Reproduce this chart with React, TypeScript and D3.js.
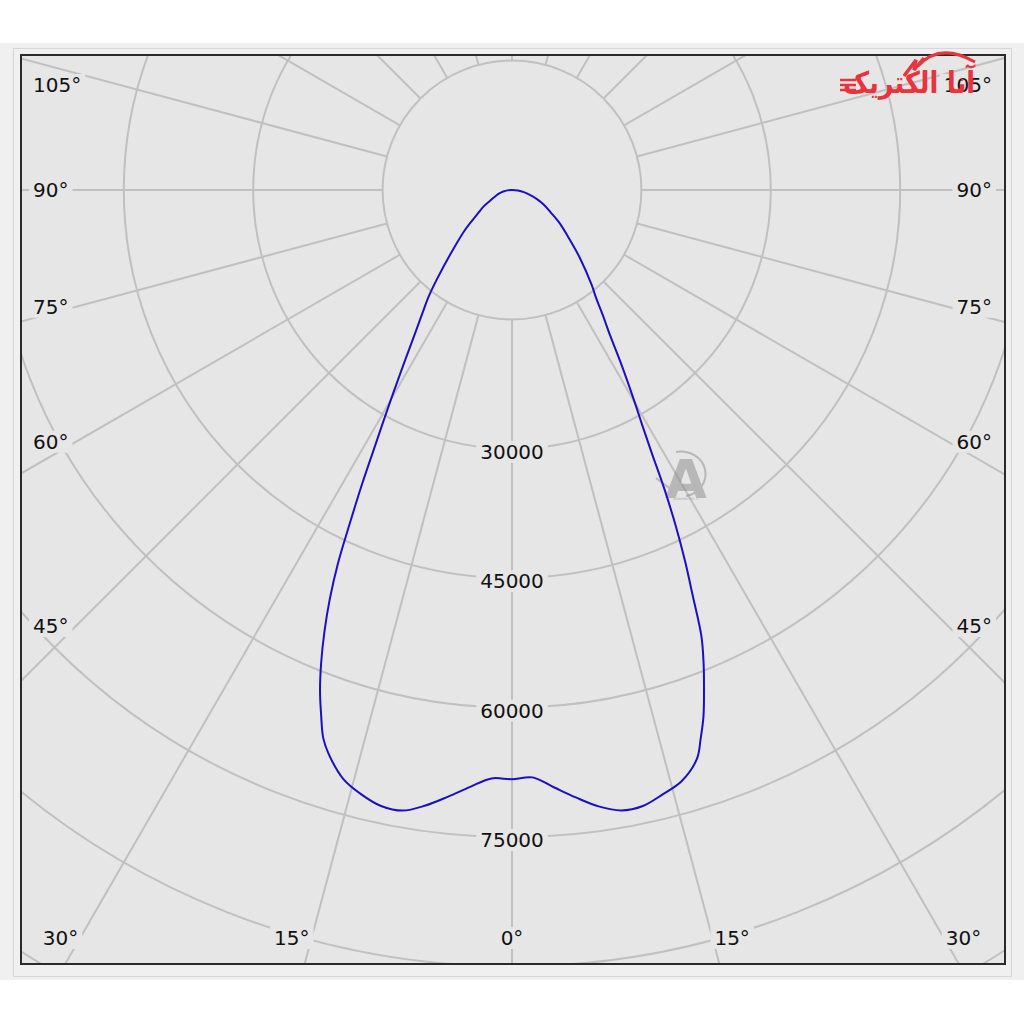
import React, { useEffect, useRef } from 'react';
import * as d3 from 'd3';

// intensity readings (cd) at angles from nadir, one list per half-plane
const angles = [0, 2, 4, 6, 8, 10, 12, 14, 16, 18, 19, 20, 21, 22, 23, 24, 25, 26, 27, 28, 29, 30, 32, 34, 36, 38, 40, 45, 50, 55, 60, 65, 70, 75, 80, 85, 90];
const leftValues = [68300, 68250, 69350, 70700, 72050, 73050, 73000, 72200, 71000, 68750, 67200, 64700, 62100, 59040, 55650, 51950, 47710, 42700, 38320, 34220, 30900, 28100, 23540, 20150, 17680, 15700, 13600, 9540, 6990, 4930, 3790, 2630, 2010, 1520, 1020, 510, 0];
const rightValues = [68300, 68130, 69400, 70800, 72150, 73030, 73000, 72200, 71300, 69350, 67200, 64900, 62100, 59300, 56200, 51550, 47460, 43270, 38920, 34470, 31100, 28500, 24040, 20340, 17870, 15800, 14370, 11110, 8520, 6790, 5170, 4110, 3080, 2090, 1400, 700, 0];

const ringValues = [15000, 30000, 45000, 60000, 75000, 90000, 105000, 120000];
const ringLabels = [30000, 45000, 60000, 75000];
const sideLabels = [105, 90, 75, 60, 45];
const bottomLabels = [30, 15, 0];

const App = () => {
  const ref = useRef<SVGSVGElement>(null);

  useEffect(() => {
    drawChart();
    return () => {
      d3.select(ref.current).selectAll('*').remove();
    };
  }, []);

  const drawChart = () => {
    const svg = d3.select(ref.current);
    const cx = 512;
    const cy = 190;
    const frame = { x: 21, y: 55, w: 984, h: 909 };
    const bg = '#e6e6e6';
    const font = '"DejaVu Sans", Verdana, sans-serif';

    const r = d3.scaleLinear().domain([0, 15000]).range([0, 129.4]);
    const rad = (deg: number) => (deg * Math.PI) / 180;
    // angle measured from straight down, side +1 right / -1 left
    const pt = (deg: number, v: number, side: number): [number, number] => [
      cx + side * r(v) * Math.sin(rad(deg)),
      cy + r(v) * Math.cos(rad(deg)),
    ];

    // outer panel
    svg.append('rect').attr('x', 0).attr('y', 43).attr('width', 1024).attr('height', 937).attr('fill', '#f0f0f0');
    svg.append('rect').attr('x', 13.5).attr('y', 48.5).attr('width', 998).attr('height', 928)
      .attr('fill', 'none').attr('stroke', '#d6d6d6').attr('stroke-width', 1);

    svg.append('defs').append('clipPath').attr('id', 'frameClip')
      .append('rect').attr('x', frame.x).attr('y', frame.y).attr('width', frame.w).attr('height', frame.h);

    svg.append('rect').attr('x', frame.x).attr('y', frame.y).attr('width', frame.w).attr('height', frame.h).attr('fill', bg);

    const g = svg.append('g').attr('clip-path', 'url(#frameClip)');

    // rings
    g.selectAll('.ring').data(ringValues).enter().append('circle')
      .attr('cx', cx).attr('cy', cy).attr('r', d => r(d))
      .attr('fill', 'none').attr('stroke', '#c0c0c0').attr('stroke-width', 2);

    // spokes every 15 degrees, from the first ring outward
    const spokes = d3.range(0, 360, 15);
    g.selectAll('.spoke').data(spokes).enter().append('line')
      .attr('x1', d => pt(d, 15000, 1)[0]).attr('y1', d => pt(d, 15000, 1)[1])
      .attr('x2', d => pt(d, 200000, 1)[0]).attr('y2', d => pt(d, 200000, 1)[1])
      .attr('stroke', '#c0c0c0').attr('stroke-width', 2);

    // labels with background boxes
    const label = (x: number, y: number, txt: string, anchor: string) => {
      const lg = svg.append('g');
      const t = lg.append('text').attr('x', x).attr('y', y)
        .attr('text-anchor', anchor).attr('dominant-baseline', 'central')
        .attr('font-family', font).attr('font-size', 20).attr('fill', '#111').text(txt);
      const b = (t.node() as SVGTextElement).getBBox();
      lg.insert('rect', 'text').attr('x', b.x - 4).attr('y', b.y + 1).attr('width', b.width + 8).attr('height', b.height - 2).attr('fill', bg);
    };

    ringLabels.forEach(v => label(cx, cy + r(v) + 3, String(v), 'middle'));

    sideLabels.forEach(a => {
      const y = Math.max(cy + 436 / Math.tan(rad(a)), 85);
      label(33, y, `${a}°`, 'start');
      label(992, y, `${a}°`, 'end');
    });

    bottomLabels.forEach(a => {
      const dx = (938 - cy) * Math.tan(rad(a));
      if (a === 0) {
        label(cx, 938, `${a}°`, 'middle');
      } else {
        label(cx - dx - 2, 938, `${a}°`, 'end');
        label(cx + dx + 2, 938, `${a}°`, 'start');
      }
    });

    // watermark
    const wm = svg.append('g').attr('opacity', 0.5);
    wm.append('text').attr('x', 686).attr('y', 498).attr('text-anchor', 'middle')
      .attr('font-family', font).attr('font-weight', 'bold').attr('font-size', 54).attr('fill', '#8a8a8a').text('A');
    wm.append('path').attr('d', 'M 676 452 A 24 22 0 1 1 686 496')
      .attr('fill', 'none').attr('stroke', '#8a8a8a').attr('stroke-width', 2);
    wm.append('path').attr('d', 'M 656 478 L 672 490')
      .attr('fill', 'none').attr('stroke', '#8a8a8a').attr('stroke-width', 2);
    wm.append('text').attr('x', 686).attr('y', 500).attr('text-anchor', 'middle')
      .attr('font-family', font).attr('font-size', 4).attr('fill', '#777').text('anaelectric.ir');

    // intensity curve
    const pts: [number, number][] = [];
    angles.forEach((a, i) => pts.push(pt(a, rightValues[i], 1)));
    for (let i = angles.length - 2; i >= 1; i--) pts.push(pt(angles[i], leftValues[i], -1));
    svg.append('path')
      .attr('d', d3.line().curve(d3.curveCatmullRomClosed)(pts) as string)
      .attr('fill', 'none').attr('stroke', '#1c0fc2').attr('stroke-width', 2);

    // frame
    svg.append('rect').attr('x', frame.x).attr('y', frame.y).attr('width', frame.w).attr('height', frame.h)
      .attr('fill', 'none').attr('stroke', '#2a2a2a').attr('stroke-width', 2);

    // logo
    const red = '#e8343c';
    const logo = svg.append('g');
    logo.append('path').attr('d', 'M 918 66 Q 940 42 975 62')
      .attr('fill', 'none').attr('stroke', red).attr('stroke-width', 3);
    logo.append('path').attr('d', 'M 904 76 L 916 60 L 914 70 L 924 58')
      .attr('fill', 'none').attr('stroke', red).attr('stroke-width', 3.5);
    logo.append('text').attr('x', 975).attr('y', 93).attr('text-anchor', 'end')
      .attr('font-family', font).attr('font-weight', 'bold').attr('font-size', 30)
      .attr('textLength', 132).attr('lengthAdjust', 'spacingAndGlyphs')
      .attr('fill', red).text('آنا الکتریک');
    logo.selectAll('.speed').data([0, 1, 2]).enter().append('line')
      .attr('x1', 840).attr('x2', 856).attr('y1', (d) => 80 + d * 5).attr('y2', (d) => 80 + d * 5)
      .attr('stroke', red).attr('stroke-width', 2.5);
  };

  return (
    <div style={{ position: 'absolute', left: 0, top: 0, width: 1024, height: 1024, background: '#fff' }}>
      <svg ref={ref} width={1024} height={1024}></svg>
    </div>
  );
};

export default App;
